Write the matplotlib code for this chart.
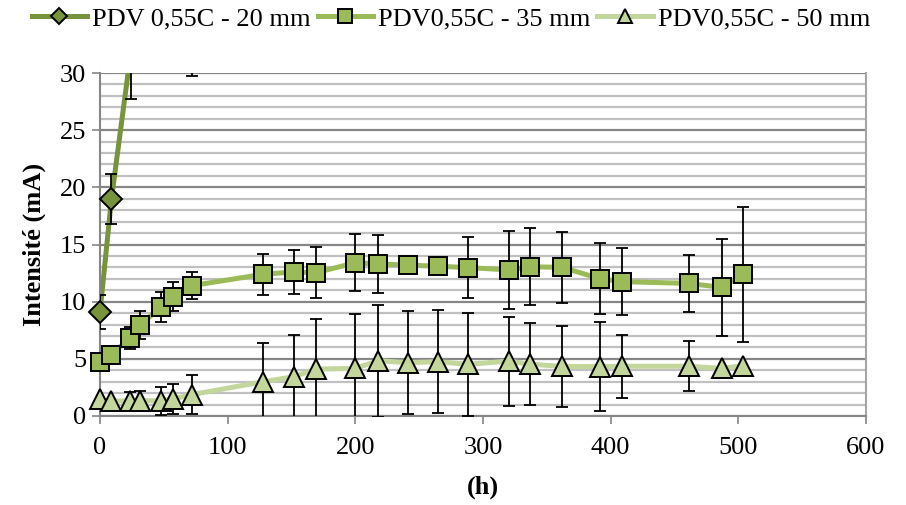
import numpy as np
import matplotlib
matplotlib.use("Agg")
import matplotlib.pyplot as plt
from matplotlib.lines import Line2D
from matplotlib.ticker import MultipleLocator

# ---- data ----
labels = ["PDV 0,55C - 20 mm", "PDV0,55C - 35 mm", "PDV0,55C - 50 mm"]

h_20 = [0, 9, 24, 72]
i_20 = [9.1, 19.0, 31.7, 35.0]
e_20 = [1.5, 2.2, 4.0, 5.3]

h_35 = [0, 8.5, 23.5, 31.5, 48, 57.5, 72, 128, 152, 169, 200, 218, 241, 265,
        288, 320, 337, 362, 392, 409, 461, 487, 504]
i_35 = [4.75, 5.35, 6.8, 7.96, 9.56, 10.45, 11.4, 12.4, 12.6, 12.53, 13.4, 13.3,
        13.2, 13.1, 12.98, 12.78, 13.05, 13.0, 12.0, 11.75, 11.6, 11.25, 12.4]
e_35 = [0.3, 0.3, 0.95, 1.2, 1.3, 1.3, 1.2, 1.8, 1.9, 2.23, 2.5, 2.5,
        0.4, 0.4, 2.68, 3.42, 3.35, 3.1, 3.09, 2.95, 2.5, 4.25, 5.9]

h_50 = [0, 8.5, 23.5, 31.5, 48, 57.5, 72, 128, 152, 169, 200, 218, 241, 265,
        288, 320, 337, 362, 392, 409, 461, 487, 504]
i_50 = [1.45, 1.31, 1.31, 1.33, 1.33, 1.5, 1.87, 3.0, 3.44, 4.1, 4.17, 4.83,
        4.67, 4.75, 4.52, 4.8, 4.53, 4.34, 4.32, 4.35, 4.35, 4.17, 4.4]
e_50 = [np.nan, np.nan, 0.8, 0.87, 1.25, 1.3, 1.7, 3.36, 3.65, 4.36, 4.78, 4.9,
        4.5, 4.5, 4.5, 3.9, 3.57, 3.53, 3.88, 2.75, 2.2, np.nan, np.nan]

x_ticks = [0, 100, 200, 300, 400, 500, 600]
y_ticks = [0, 5, 10, 15, 20, 25, 30]

# ---- style ----
plt.rcParams['font.family'] = ['Liberation Serif', 'DejaVu Serif']
FS = 19
colors = ["#77933C", "#9BBB59", "#C3D69B"]
markers = ["D", "s", "^"]
msizes = [11, 13.5, 14]
lg_msizes = [8, 9.5, 10]

fig = plt.figure(figsize=(9.06, 5.05), dpi=100)
ax = fig.add_axes([100/906, 1-416/505, 766/906, 343/505])

ymax = 30
series = [(h_20, i_20, e_20), (h_35, i_35, e_35), (h_50, i_50, e_50)]
for k, (x, y, e) in enumerate(series):
    x = np.asarray(x, float); y = np.asarray(y, float); e = np.asarray(e, float)
    base = 2 + k * 0.01
    ax.plot(x, y, color=colors[k], lw=3.6, zorder=base, solid_capstyle='butt')
    ax.errorbar(x, y, yerr=e, fmt='none', ecolor='black', elinewidth=1.3,
                capsize=4.5, capthick=1.3, zorder=base + 1)
    ym = np.ma.masked_greater(y, ymax)
    ax.plot(x, ym, ls='none', marker=markers[k], ms=msizes[k], mfc=colors[k],
            mec='black', mew=1.4, zorder=base + 2, clip_on=False)

ax.set_xlim(0, 600)
ax.set_ylim(0, 30)
ax.set_xticks(x_ticks)
ax.set_yticks(y_ticks)
ax.yaxis.set_minor_locator(MultipleLocator(1))
ax.tick_params(axis='both', which='major', direction='out', length=6,
               width=1.2, color='#868686', labelsize=FS)
ax.tick_params(axis='y', which='major', pad=4)
ax.tick_params(axis='x', which='major', pad=9)
ax.tick_params(axis='y', which='minor', length=0)
ax.grid(axis='y', which='minor', color='#C0C0C0', lw=1.6, zorder=0)
ax.grid(axis='y', which='major', color='#868686', lw=1.6, zorder=0.5)
ax.set_axisbelow(True)
for s in ['left', 'bottom', 'right']:
    ax.spines[s].set_color('#868686')
    ax.spines[s].set_linewidth(1.5)
ax.spines['right'].set_color('#A6A6A6')
ax.spines['top'].set_visible(False)

ax.set_ylabel("Intensité (mA)", fontsize=FS, fontweight='bold', labelpad=10)
ax.set_xlabel("(h)", fontsize=FS, fontweight='bold', labelpad=12)

handles = [Line2D([0], [0], color=colors[k], lw=3.6, marker=markers[k],
                  ms=lg_msizes[k], mfc=colors[k], mec='black', mew=1.4)
           for k in range(3)]
fig.legend(handles, labels, loc='center', bbox_to_anchor=(451/906, 1-19/505),
           ncol=3, frameon=False, fontsize=FS, handlelength=2.1,
           handletextpad=0.2, columnspacing=0.25, borderpad=0)

fig.savefig("out.png", dpi=100)
